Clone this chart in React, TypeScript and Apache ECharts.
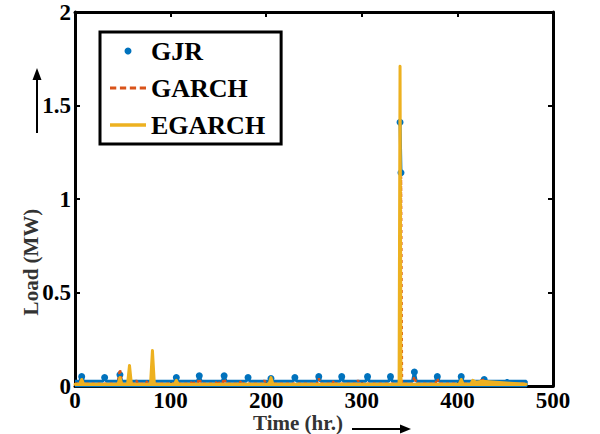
import React, { useEffect, useRef } from "react";
import * as echarts from "echarts";

const xTicks = { min: 0, max: 500, interval: 100 };
const yTicks = { min: 0, max: 2, interval: 0.5 };
const seriesNames = ["GJR", "GARCH", "EGARCH"];

// [hour, load MW] (null = no GJR line drawn into the isolated spike dots)
const gjrPoints: [number, number | null][] = [
  [0, 0.025], [5, 0.025], [7, 0.05], [9, 0.025], [29, 0.025], [31, 0.045], [33, 0.025],
  [45, 0.025], [47, 0.06], [49, 0.025], [104, 0.025], [106, 0.045], [108, 0.025],
  [128, 0.025], [130, 0.055], [132, 0.025], [154, 0.025], [156, 0.055], [158, 0.025],
  [179, 0.025], [181, 0.045], [183, 0.025], [203, 0.025], [205, 0.04], [207, 0.025],
  [228, 0.025], [230, 0.045], [232, 0.025], [253, 0.025], [255, 0.05], [257, 0.025],
  [277, 0.025], [279, 0.05], [281, 0.025], [304, 0.025], [306, 0.05], [308, 0.025],
  [328, 0.025], [330, 0.05], [332, 0.025], [339, 0.025], [339.5, null], [340, 1.41], [341, 1.14],
  [341.5, null], [342, 0.025], [353, 0.025], [355, 0.075], [357, 0.025], [377, 0.025], [379, 0.05],
  [381, 0.025], [402, 0.025], [404, 0.05], [406, 0.025], [426, 0.025], [428, 0.035],
  [430, 0.025], [450, 0.025], [452, 0.03], [454, 0.025], [472, 0.025], [472, 0], [0, 0],
];

const garchPoints: [number, number][] = [
  [0, 0.012], [5, 0.012], [7, 0.04], [9, 0.012], [45, 0.012], [47, 0.09], [49, 0.012],
  [62, 0.012], [64, 0.03], [66, 0.012], [74, 0.012], [76, 0.03], [78, 0.012],
  [121, 0.012], [123, 0.03], [125, 0.012], [128, 0.012], [130, 0.04], [132, 0.012],
  [147, 0.012], [149, 0.03], [151, 0.012], [154, 0.012], [156, 0.04], [158, 0.012],
  [172, 0.012], [174, 0.03], [176, 0.012], [196, 0.012], [198, 0.03], [200, 0.012],
  [253, 0.012], [255, 0.04], [257, 0.012], [269, 0.012], [271, 0.03], [273, 0.012],
  [294, 0.012], [296, 0.03], [298, 0.012], [340, 0.012], [341, 1.12], [342, 0.012],
  [353, 0.012], [355, 0.05], [357, 0.012], [377, 0.012], [379, 0.04], [381, 0.012],
  [424, 0.012], [426, 0.045], [428, 0.012], [472, 0.012],
];

const egarchPoints: [number, number][] = [
  [0, 0.01], [5, 0.01], [7, 0.035], [9, 0.01], [45, 0.01], [47, 0.045], [49, 0.01],
  [55, 0.01], [57, 0.11], [59, 0.01], [79, 0.01], [81, 0.19], [83, 0.01],
  [104, 0.01], [106, 0.03], [108, 0.01], [203, 0.01], [205, 0.045], [207, 0.01],
  [339, 0.01], [340, 1.71], [341, 0.01], [402, 0.01], [404, 0.035], [406, 0.01],
  [414, 0.01], [416, 0.03], [420, 0.02], [426, 0.025], [440, 0.02], [455, 0.015], [472, 0.01],
];

const FONT = "'Liberation Serif', 'Times New Roman', serif";

export default function App() {
  const ref = useRef<HTMLDivElement>(null);
  useEffect(() => {
    const chart = echarts.init(ref.current!, null, { renderer: "svg" });
    const axisLine = { show: true, onZero: false, lineStyle: { color: "#000", width: 3 } };
    const axisTick = { show: true, inside: true, length: 5, lineStyle: { color: "#000", width: 2 } };
    const label = { color: "#000", fontFamily: FONT, fontWeight: "bold", fontSize: 23 };
    chart.setOption({
      animation: false,
      backgroundColor: "#fff",
      grid: { left: 75, right: 47, top: 12, bottom: 48 },
      xAxis: [
        { type: "value", ...xTicks, position: "bottom", axisLine, axisTick,
          axisLabel: { ...label, margin: 3 }, splitLine: { show: false } },
        { type: "value", ...xTicks, position: "top", axisLine, axisTick,
          axisLabel: { show: false }, splitLine: { show: false } },
      ],
      yAxis: [
        { type: "value", ...yTicks, position: "left", axisLine, axisTick,
          axisLabel: { ...label, margin: 4 }, splitLine: { show: false } },
        { type: "value", ...yTicks, position: "right", axisLine, axisTick,
          axisLabel: { show: false }, splitLine: { show: false } },
      ],
      legend: {
        orient: "vertical", left: 100, top: 32,
        padding: [6, 16, 6, 10], itemGap: 11, itemWidth: 36, itemHeight: 7,
        borderColor: "#000", borderWidth: 3, backgroundColor: "#fff",
        textStyle: { fontFamily: FONT, fontWeight: "bold", fontSize: 26, color: "#000" },
        data: [
          { name: seriesNames[0], icon: "circle" },
          { name: seriesNames[1], icon: "path://M0,0h6v3h-6z M9.5,0h6v3h-6z M19,0h6v3h-6z M28.5,0h6v3h-6z" },
          { name: seriesNames[2], icon: "path://M0,0h36v3.5h-36z" },
        ],
      },
      series: [
        {
          type: "line", name: seriesNames[0], data: gjrPoints, color: "#0072BD",
          lineStyle: { width: 3 }, symbol: "circle", connectNulls: false,
          symbolSize: (v: number[]) => (v[1] > 0.03 ? 7 : 0), z: 2,
        },
        {
          type: "line", name: seriesNames[1], data: garchPoints, color: "#D95319",
          lineStyle: { width: 2.5, type: [3, 3] }, symbol: "none", z: 3,
        },
        {
          type: "line", name: seriesNames[2], data: egarchPoints, color: "#EDB120",
          lineStyle: { width: 3, cap: "round", join: "round" },
          areaStyle: { color: "#EDB120", opacity: 1 }, symbol: "none", z: 4,
        },
      ],
      graphic: [
        { type: "text", x: 31, y: 262, rotation: Math.PI / 2,
          style: { text: "Load (MW)", font: `bold 21px ${FONT}`, fill: "#333", align: "center", verticalAlign: "middle" } },
        { type: "line", shape: { x1: 37, y1: 133, x2: 37, y2: 78 }, style: { stroke: "#000", lineWidth: 2 } },
        { type: "polygon", shape: { points: [[37, 68], [32.5, 80], [41.5, 80]] }, style: { fill: "#000" } },
        { type: "text", x: 298, y: 423,
          style: { text: "Time (hr.)", font: `bold 21px ${FONT}`, fill: "#333", align: "center", verticalAlign: "middle" } },
        { type: "line", shape: { x1: 352, y1: 429, x2: 402, y2: 429 }, style: { stroke: "#000", lineWidth: 2 } },
        { type: "polygon", shape: { points: [[411, 429], [400, 424.5], [400, 433.5]] }, style: { fill: "#000" } },
      ],
    });
    return () => chart.dispose();
  }, []);
  return <div ref={ref} style={{ width: 600, height: 434, position: "absolute", left: 0, top: 0 }} />;
}
